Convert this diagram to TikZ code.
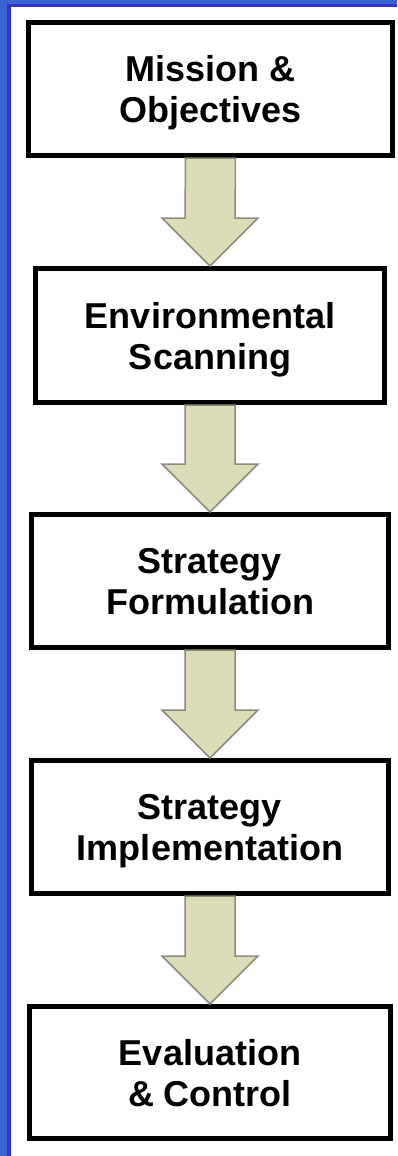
\documentclass[tikz,border=0pt]{standalone}
\usepackage{fontspec}
\setmainfont{Liberation Sans}
\usetikzlibrary{calc}
\definecolor{blueout}{RGB}{58,100,207}
\definecolor{bluein}{RGB}{52,52,204}
\definecolor{arrfill}{RGB}{220,220,184}
\definecolor{arrline}{RGB}{140,140,125}
\tikzset{
  stagebox/.style={draw=black, line width=5pt, fill=white, align=center,
    font=\fontsize{36}{41}\selectfont\bfseries, inner sep=0pt, text depth=-3pt},
  fatarrow/.style={draw=arrline, fill=arrfill, line width=1.5pt, line join=miter}
}
\newcommand\flowarrow[2]{%
  \draw[fatarrow] ($(#1.south)+(-25,0)$) -- ($(#1.south)+(25,0)$)
    -- ($(#2.north)+(25,48)$) -- ($(#2.north)+(48,48)$) -- (#2.north)
    -- ($(#2.north)+(-48,48)$) -- ($(#2.north)+(-25,48)$) -- cycle;}
\begin{document}
\begin{tikzpicture}[x=1pt,y=1pt]
\useasboundingbox (0,0) rectangle (397,-1156);
\fill[white] (0,0) rectangle (397,-1156);
\fill[blueout] (0,0) rectangle (397,-4);
\fill[blueout] (0,0) rectangle (7,-1156);
\fill[bluein] (7,-4) rectangle (397,-7);
\fill[bluein] (7,-4) rectangle (11,-1156);

\node[stagebox, minimum width=364pt, minimum height=133pt] (b1) at (210.5,-89) {Mission \&\\Objectives};
\node[stagebox, minimum width=349pt, minimum height=134pt] (b2) at (210,-335.5) {Environmental\\Scanning};
\node[stagebox, minimum width=357pt, minimum height=133pt] (b3) at (210,-581) {Strategy\\Formulation};
\node[stagebox, minimum width=357pt, minimum height=133pt] (b4) at (210,-827) {Strategy\\Implementation};
\node[stagebox, minimum width=361pt, minimum height=132pt] (b5) at (210,-1072.5) {Evaluation\\\& Control};

\flowarrow{b1}{b2}
\flowarrow{b2}{b3}
\flowarrow{b3}{b4}
\flowarrow{b4}{b5}
\end{tikzpicture}
\end{document}
